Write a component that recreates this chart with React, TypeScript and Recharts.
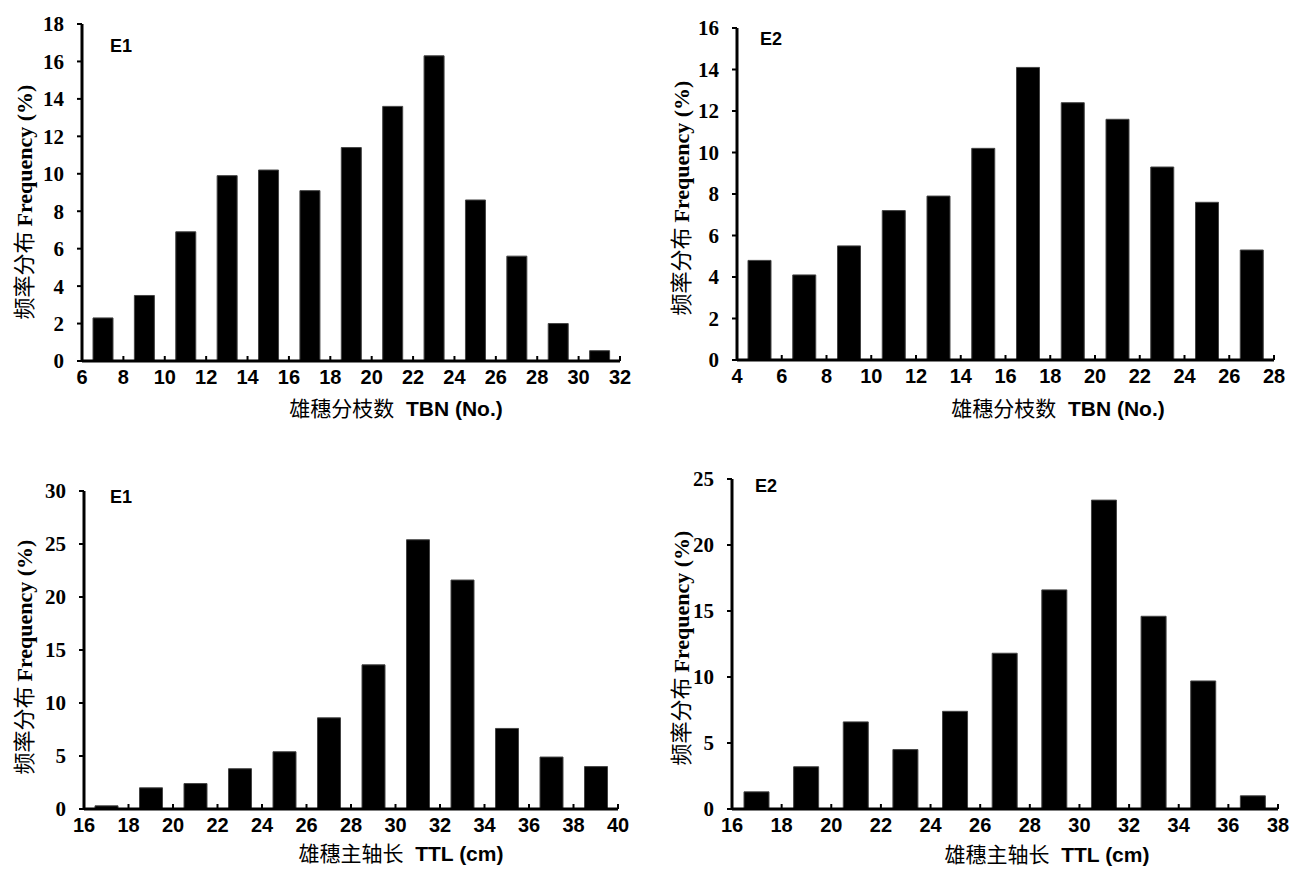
import React from 'react'
import { BarChart, Bar, XAxis, YAxis } from 'recharts'

// TBN (tassel branch number), environment E1
const tbnE1Mid = [7, 9, 11, 13, 15, 17, 19, 21, 23, 25, 27, 29, 31]
const tbnE1Freq = [2.3, 3.5, 6.9, 9.9, 10.2, 9.1, 11.4, 13.6, 16.3, 8.6, 5.6, 2.0, 0.55]
const tbnE1Ticks = [6, 8, 10, 12, 14, 16, 18, 20, 22, 24, 26, 28, 30, 32]
const tbnE1YTicks = [0, 2, 4, 6, 8, 10, 12, 14, 16, 18]

// TBN, environment E2
const tbnE2Mid = [5, 7, 9, 11, 13, 15, 17, 19, 21, 23, 25, 27]
const tbnE2Freq = [4.8, 4.1, 5.5, 7.2, 7.9, 10.2, 14.1, 12.4, 11.6, 9.3, 7.6, 5.3]
const tbnE2Ticks = [4, 6, 8, 10, 12, 14, 16, 18, 20, 22, 24, 26, 28]
const tbnE2YTicks = [0, 2, 4, 6, 8, 10, 12, 14, 16]

// TTL (tassel main axis length), environment E1
const ttlE1Mid = [17, 19, 21, 23, 25, 27, 29, 31, 33, 35, 37, 39]
const ttlE1Freq = [0.3, 2.0, 2.4, 3.8, 5.4, 8.6, 13.6, 25.4, 21.6, 7.6, 4.9, 4.0]
const ttlE1Ticks = [16, 18, 20, 22, 24, 26, 28, 30, 32, 34, 36, 38, 40]
const ttlE1YTicks = [0, 5, 10, 15, 20, 25, 30]

// TTL, environment E2
const ttlE2Mid = [17, 19, 21, 23, 25, 27, 29, 31, 33, 35, 37]
const ttlE2Freq = [1.3, 3.2, 6.6, 4.5, 7.4, 11.8, 16.6, 23.4, 14.6, 9.7, 1.0]
const ttlE2Ticks = [16, 18, 20, 22, 24, 26, 28, 30, 32, 34, 36, 38]
const ttlE2YTicks = [0, 5, 10, 15, 20, 25]

const SANS = '"Liberation Sans", Arial, sans-serif'
const SERIF = '"Liberation Serif", "Times New Roman", serif'
const CJK = '"Noto Sans CJK SC", sans-serif'

const XTick = (props: any) => {
  const { x, y, payload } = props
  return (
    <g>
      <line x1={x} x2={x} y1={y - 5} y2={y} stroke="#000" strokeWidth={2} />
      <text x={x} y={y + 23} textAnchor="middle" fontFamily={SANS} fontWeight="bold" fontSize={20} fill="#000">
        {payload.value}
      </text>
    </g>
  )
}

interface PanelProps {
  left: number
  top: number
  width: number
  height: number
  margin: { top: number; right: number; bottom: number; left: number }
  mids: number[]
  freqs: number[]
  xTicks: number[]
  yTicks: number[]
  barSize: number
  tag: string
  tagPos: [number, number]
  yTitlePos: [number, number]
  xTitlePos: [number, number]
  xTitleCn: string
  xTitleEn: string
}

function Panel(p: PanelProps) {
  const data = p.mids.map((m, i) => ({ x: m, freq: p.freqs[i] }))
  const xDomain = [p.xTicks[0], p.xTicks[p.xTicks.length - 1]]
  const yDomain = [p.yTicks[0], p.yTicks[p.yTicks.length - 1]]
  return (
    <>
      <div style={{ position: 'absolute', left: p.left, top: p.top }}>
        <BarChart width={p.width} height={p.height} data={data} margin={p.margin}>
          <XAxis
            dataKey="x"
            type="number"
            domain={xDomain}
            ticks={p.xTicks}
            interval={0}
            height={40}
            tickSize={0}
            tickMargin={0}
            tickLine={false}
            axisLine={{ stroke: '#000', strokeWidth: 3 }}
            tick={<XTick />}
          />
          <YAxis
            type="number"
            domain={yDomain}
            ticks={p.yTicks}
            interval={0}
            width={70}
            tickSize={5}
            tickMargin={13}
            tickLine={{ stroke: '#000', strokeWidth: 2 }}
            axisLine={{ stroke: '#000', strokeWidth: 3 }}
            tick={{ fontFamily: SERIF, fontWeight: 'bold', fontSize: 21, fill: '#000' }}
          />
          <Bar dataKey="freq" fill="#000" stroke="#444" strokeWidth={1} barSize={p.barSize} isAnimationActive={false} />
        </BarChart>
      </div>
      <div
        style={{
          position: 'absolute',
          left: p.tagPos[0],
          top: p.tagPos[1],
          transform: 'translateY(-50%)',
          fontFamily: SANS,
          fontWeight: 'bold',
          fontSize: 18,
        }}
      >
        {p.tag}
      </div>
      <div
        style={{
          position: 'absolute',
          left: p.yTitlePos[0],
          top: p.yTitlePos[1],
          transform: 'translate(-50%, -50%) rotate(-90deg)',
          whiteSpace: 'nowrap',
          fontSize: 22,
          lineHeight: 1,
        }}
      >
        <span style={{ fontFamily: CJK }}>频率分布 </span>
        <span style={{ fontFamily: SERIF, fontWeight: 'bold' }}>Frequency (%)</span>
      </div>
      <div
        style={{
          position: 'absolute',
          left: p.xTitlePos[0],
          top: p.xTitlePos[1],
          transform: 'translate(-50%, -50%)',
          whiteSpace: 'nowrap',
          fontSize: 21,
          lineHeight: 1,
        }}
      >
        <span style={{ fontFamily: CJK }}>{p.xTitleCn}</span>
        <span style={{ fontFamily: SANS, fontWeight: 'bold' }}>{'\u00a0\u00a0' + p.xTitleEn}</span>
      </div>
    </>
  )
}

export default function App() {
  return (
    <div style={{ position: 'absolute', left: 0, top: 0, width: 1299, height: 877, background: '#fff', overflow: 'hidden' }}>
      <Panel
        left={0}
        top={0}
        width={650}
        height={420}
        margin={{ top: 24, right: 30, bottom: 19, left: 12 }}
        mids={tbnE1Mid}
        freqs={tbnE1Freq}
        xTicks={tbnE1Ticks}
        yTicks={tbnE1YTicks}
        barSize={20}
        tag="E1"
        tagPos={[110, 46]}
        yTitlePos={[23, 202]}
        xTitlePos={[396, 408]}
        xTitleCn="雄穗分枝数"
        xTitleEn="TBN (No.)"
      />
      <Panel
        left={650}
        top={0}
        width={649}
        height={420}
        margin={{ top: 28, right: 25, bottom: 20, left: 17 }}
        mids={tbnE2Mid}
        freqs={tbnE2Freq}
        xTicks={tbnE2Ticks}
        yTicks={tbnE2YTicks}
        barSize={23}
        tag="E2"
        tagPos={[760, 39]}
        yTitlePos={[680, 198]}
        xTitlePos={[1058, 408]}
        xTitleCn="雄穗分枝数"
        xTitleEn="TBN (No.)"
      />
      <Panel
        left={0}
        top={440}
        width={650}
        height={437}
        margin={{ top: 51, right: 32, bottom: 28, left: 14 }}
        mids={ttlE1Mid}
        freqs={ttlE1Freq}
        xTicks={ttlE1Ticks}
        yTicks={ttlE1YTicks}
        barSize={23}
        tag="E1"
        tagPos={[110, 497]}
        yTitlePos={[23, 657]}
        xTitlePos={[401, 853]}
        xTitleCn="雄穗主轴长"
        xTitleEn="TTL (cm)"
      />
      <Panel
        left={650}
        top={440}
        width={649}
        height={437}
        margin={{ top: 39, right: 21, bottom: 28, left: 12 }}
        mids={ttlE2Mid}
        freqs={ttlE2Freq}
        xTicks={ttlE2Ticks}
        yTicks={ttlE2YTicks}
        barSize={25}
        tag="E2"
        tagPos={[755, 486]}
        yTitlePos={[680, 648]}
        xTitlePos={[1047, 854]}
        xTitleCn="雄穗主轴长"
        xTitleEn="TTL (cm)"
      />
    </div>
  )
}
